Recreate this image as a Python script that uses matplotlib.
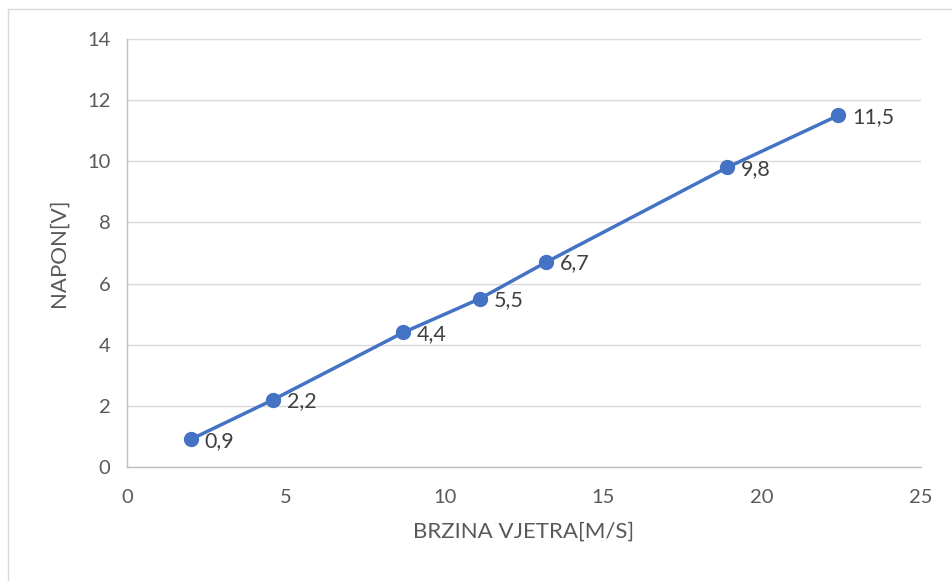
import matplotlib.pyplot as plt
from matplotlib.lines import Line2D

brzina = [2.0, 4.6, 8.7, 11.1, 13.2, 18.9, 22.4]
napon = [0.9, 2.2, 4.4, 5.5, 6.7, 9.8, 11.5]
labels = ["0,9", "2,2", "4,4", "5,5", "6,7", "9,8", "11,5"]

plt.rcParams['font.family'] = ['Lato', 'DejaVu Sans']
txt = '#595959'
grid = '#d9d9d9'

fig = plt.figure(figsize=(9.52, 5.81), dpi=100)
ax = fig.add_axes([127/952, 1-467/581, (921-127)/952, (467-39)/581])

ax.plot(brzina, napon, color='#4472C4', lw=2.5, marker='o', ms=10, zorder=3)
for x, y, l in zip(brzina, napon, labels):
    ax.annotate(l, (x, y), xytext=(10, -1), textcoords='offset points',
                ha='left', va='center', fontsize=15.5, color='#404040')

ax.set_xlim(0, 25)
ax.set_ylim(0, 14)
ax.set_xticks(range(0, 26, 5))
ax.set_yticks(range(0, 15, 2))
ax.grid(axis='y', color=grid, lw=1)
ax.set_axisbelow(True)
for s in ['top', 'right']:
    ax.spines[s].set_visible(False)
for s in ['left', 'bottom']:
    ax.spines[s].set_color('#bfbfbf')
    ax.spines[s].set_linewidth(1)
ax.tick_params(length=0, labelsize=14.5, labelcolor=txt, pad=12)
ax.tick_params(axis='x', pad=16)
ax.set_xlabel('BRZINA VJETRA[M/S]', fontsize=16, color=txt, labelpad=11)
ax.set_ylabel('NAPON[V]', fontsize=16, color=txt, labelpad=13)

# chart frame
fig.add_artist(Line2D([8/952, 8/952], [0, 1-9/581], color='#d9d9d9', lw=1))
fig.add_artist(Line2D([8/952, 1], [1-9/581, 1-9/581], color='#d9d9d9', lw=1))

fig.savefig('out.png', dpi=100)
